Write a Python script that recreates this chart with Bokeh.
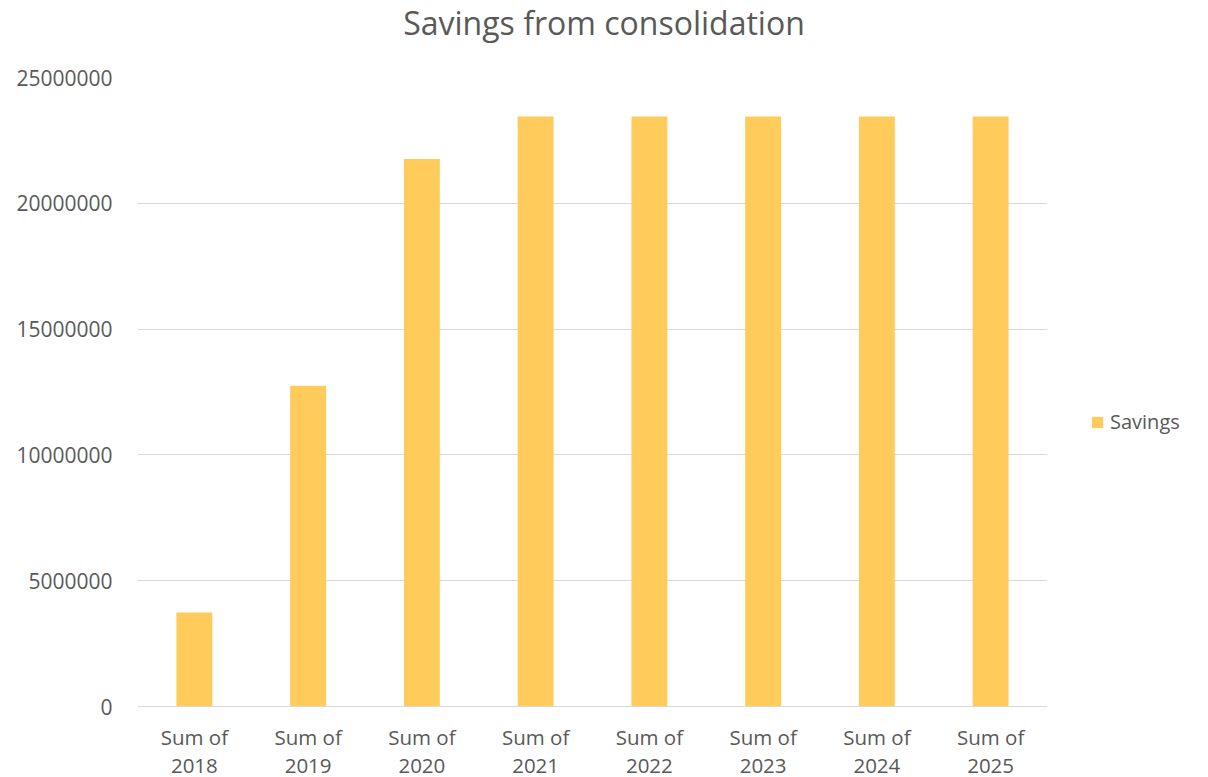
from bokeh.plotting import figure
from bokeh.models import ColumnDataSource, Legend, LegendItem, SingleIntervalTicker, NumeralTickFormatter, FactorRange, Div
from bokeh.layouts import column, row
from bokeh.embed import file_html
from bokeh.resources import INLINE

title_text = "Savings from consolidation"
series_name = "Savings"
categories = ["Sum of\n2018", "Sum of\n2019", "Sum of\n2020", "Sum of\n2021",
              "Sum of\n2022", "Sum of\n2023", "Sum of\n2024", "Sum of\n2025"]
savings = [3740000, 12750000, 21760000, 23450000, 23450000, 23450000, 23450000, 23450000]

FONT = "Open Sans"
GREY = "#595959"
BAR = "#FFCC5C"

src = ColumnDataSource(dict(cat=categories, val=savings))

title = Div(text=title_text, width=1208, height=45,
            styles={"font-family": FONT, "font-size": "32px", "color": GREY,
                    "text-align": "center", "line-height": "45px", "width": "1208px",
                    "margin": "0", "padding": "0"})

p = figure(frame_width=910, frame_height=629, x_range=FactorRange(*categories), y_range=(0, 25000000),
           output_backend="svg", toolbar_location=None,
           min_border_left=137, min_border_right=0, min_border_top=32, min_border_bottom=71)

r = p.vbar(x="cat", top="val", width=0.316, source=src, color=BAR, line_color=None)

p.outline_line_color = None
p.xgrid.grid_line_color = None
p.ygrid.grid_line_color = "#D9D9D9"
p.ygrid.grid_line_width = 1

p.yaxis.ticker = SingleIntervalTicker(interval=5000000)
p.yaxis.formatter = NumeralTickFormatter(format="0")
p.yaxis.axis_line_color = None
p.yaxis.major_tick_line_color = None
p.yaxis.minor_tick_line_color = None
p.yaxis.major_label_text_font = FONT
p.yaxis.major_label_text_font_size = "21px"
p.yaxis.major_label_text_color = GREY
p.yaxis.major_label_standoff = 19

p.xaxis.axis_line_color = "#D9D9D9"
p.xaxis.major_tick_line_color = None
p.xaxis.minor_tick_line_color = None
p.xaxis.major_label_text_font = FONT
p.xaxis.major_label_text_font_size = "20.5px"
p.xaxis.major_label_text_color = GREY
p.xaxis.major_label_text_line_height = 1.0
p.xaxis.major_label_standoff = 10

# legend panel to the right of the plot area: same series on a range that shows none of
# its bars, so only the legend key is visible
pl = figure(width=161, height=732, x_range=FactorRange("key"), y_range=(0, 1),
            output_backend="svg", toolbar_location=None,
            x_axis_type=None, y_axis_type=None, min_border=0)
pl.outline_line_color = None
pl.grid.grid_line_color = None
lr = pl.vbar(x="cat", top="val", width=0.316, source=src, color=BAR, line_color=None)
legend = Legend(items=[LegendItem(label=series_name, renderers=[lr])],
                location=(43, 267), border_line_color=None, background_fill_alpha=0,
                label_text_font=FONT, label_text_font_size="20px", label_text_color=GREY,
                glyph_width=14, glyph_height=14, label_standoff=6, padding=0, margin=0)
pl.add_layout(legend)

layout = column(title, row(p, pl, spacing=0), spacing=0)

open("out.html", "w").write(file_html(layout, INLINE))
